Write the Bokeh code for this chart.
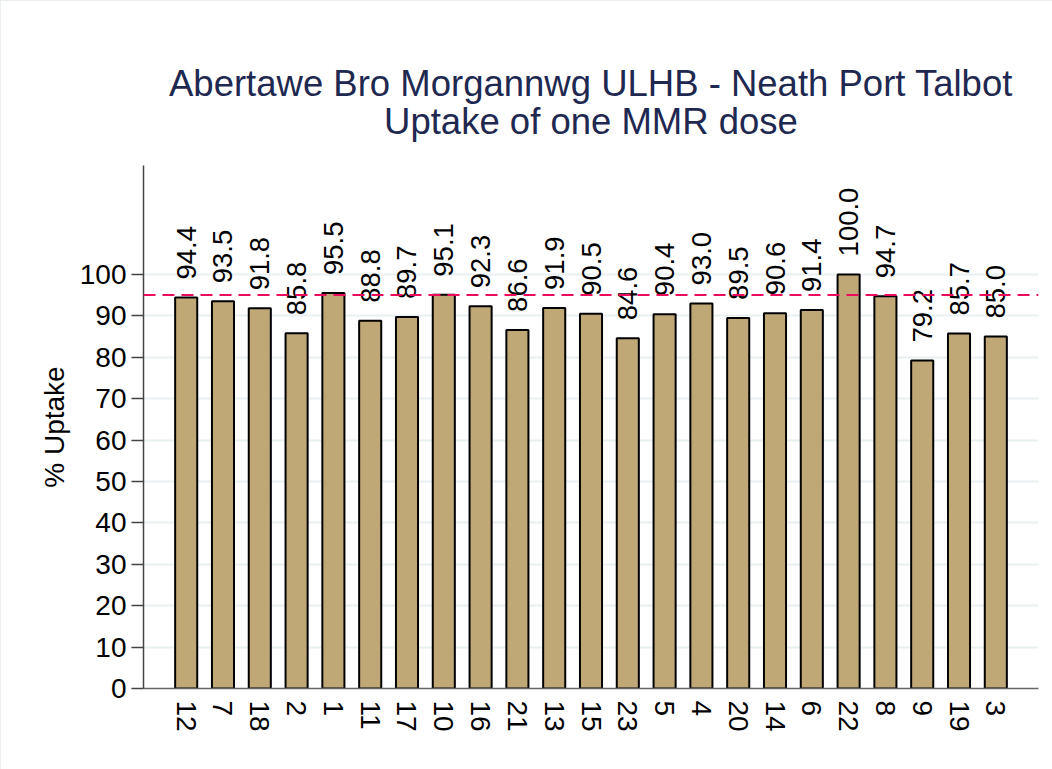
import math
from bokeh.plotting import figure
from bokeh.models import ColumnDataSource, FactorRange, Range1d, FixedTicker, Span
from bokeh.core.properties import value
from bokeh.embed import file_html
from bokeh.resources import INLINE

areas = ["12", "7", "18", "2", "1", "11", "17", "10", "16", "21", "13", "15",
         "23", "5", "4", "20", "14", "6", "22", "8", "9", "19", "3"]
uptake = [94.4, 93.5, 91.8, 85.8, 95.5, 88.8, 89.7, 95.1, 92.3, 86.6, 91.9, 90.5,
          84.6, 90.4, 93.0, 89.5, 90.6, 91.4, 100.0, 94.7, 79.2, 85.7, 85.0]
target = 95
y_ticks = list(range(0, 101, 10))
title_line1 = "Abertawe Bro Morgannwg ULHB - Neath Port Talbot"
title_line2 = "Uptake of one MMR dose"
y_label = "% Uptake"

FONT = "Liberation Sans"
TITLE_COLOR = "#1e2850"

src = ColumnDataSource(dict(
    area=areas,
    uptake=uptake,
    label=[f"{v:.1f}" for v in uptake],
))

p = figure(
    width=1052, height=769,
    x_range=FactorRange(*areas, range_padding=0.66, range_padding_units="absolute"),
    y_range=Range1d(0, 126.3),
    output_backend="svg", toolbar_location=None,
    min_border_left=143, min_border_right=14, min_border_top=165, min_border_bottom=81,
    title=title_line1 + "\n" + title_line2,
)
p.styles = {"outline": "1px solid #e3ebeb", "outline-offset": "-1px"}
p.outline_line_color = None
p.background_fill_color = "white"
p.border_fill_color = "white"

p.title.align = "center"
try:
    p.title.text_align = "center"
except Exception:
    pass
p.title.text_font = FONT
p.title.text_font_size = "36.5px"
p.title.text_font_style = "normal"
p.title.text_color = TITLE_COLOR
p.title.text_line_height = 0.95
p.title.standoff = 46

p.vbar(x="area", top="uptake", width=0.6, source=src,
       fill_color="#bfa776", line_color="black", line_width=2)

p.text(x="area", y="uptake", text="label", source=src,
       angle=math.pi / 2, text_align="left", text_baseline="middle",
       y_offset=-18, text_font=value(FONT), text_font_size="27.5px", text_color="black")

p.add_layout(Span(location=target, dimension="width", line_color="#eb0a5c",
                  line_width=2, line_dash="12 7"))

# y axis
p.yaxis.ticker = FixedTicker(ticks=y_ticks)
p.yaxis.axis_label = y_label
p.yaxis.axis_label_text_font = FONT
p.yaxis.axis_label_text_font_size = "28px"
p.yaxis.axis_label_text_font_style = "normal"
p.yaxis.axis_label_text_color = "black"
p.yaxis.axis_label_standoff = 7
p.yaxis.major_label_text_font = FONT
p.yaxis.major_label_text_font_size = "28px"
p.yaxis.major_label_text_color = "black"
p.yaxis.major_label_standoff = 5
p.yaxis.major_tick_out = 12
p.yaxis.major_tick_in = 0
p.yaxis.minor_tick_line_color = None
p.yaxis.axis_line_color = "#444444"
p.yaxis.major_tick_line_color = "#444444"
p.yaxis.axis_line_width = 1.5
p.yaxis.major_tick_line_width = 1.5

# x axis
p.xaxis.major_label_orientation = "vertical"
p.xaxis.major_label_text_font = FONT
p.xaxis.major_label_text_font_size = "28px"
p.xaxis.major_label_text_color = "black"
p.xaxis.major_label_standoff = 6
p.xaxis.major_tick_line_color = None
p.xaxis.minor_tick_line_color = None
p.xaxis.axis_line_color = "#666666"
p.xaxis.axis_line_width = 1.5

p.xgrid.grid_line_color = None
p.ygrid.grid_line_color = "#e8f0f2"
p.ygrid.grid_line_width = 2

open("out.html", "w").write(file_html(p, INLINE))
